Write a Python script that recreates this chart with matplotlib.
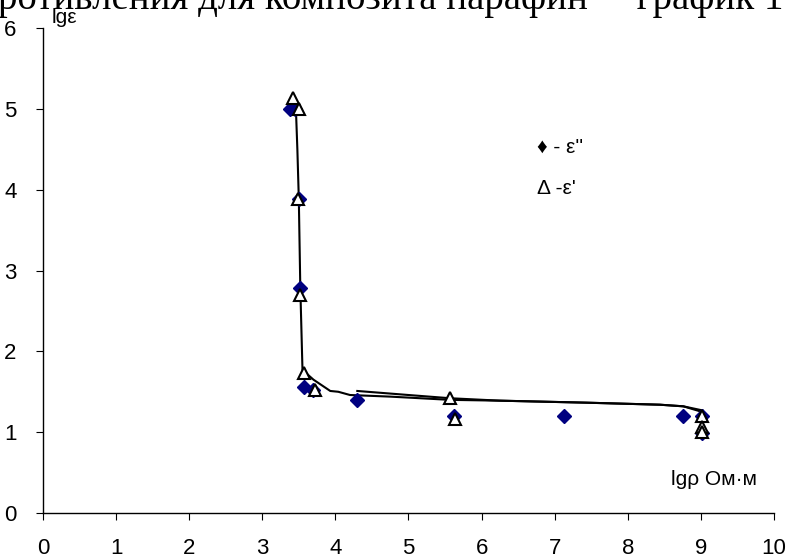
import matplotlib.pyplot as plt

# data
# eps'' (filled diamonds)
x_eps2 = [3.38, 3.45, 3.50, 3.52, 3.57, 3.70, 4.30, 5.62, 7.13, 8.75, 9.02, 9.02]
y_eps2 = [5.00, 5.00, 3.88, 2.78, 1.56, 1.52, 1.40, 1.20, 1.20, 1.20, 1.20, 0.99]

# eps' (open triangles)
x_eps1 = [3.42, 3.50, 3.49, 3.52, 3.57, 3.72, 5.57, 5.63, 9.02, 9.02, 9.02]
y_eps1 = [5.14, 5.00, 3.88, 2.70, 1.73, 1.52, 1.42, 1.16, 1.20, 1.06, 1.00]

# hand-drawn trend lines
trend1_x = [3.46, 3.48, 3.50, 3.52, 3.55, 3.70, 3.93, 4.04, 4.20, 4.75, 5.57,
            6.25, 7.44, 8.44, 8.76, 9.02]
trend1_y = [5.00, 4.50, 3.88, 2.80, 1.77, 1.65, 1.51, 1.50, 1.46, 1.44, 1.40,
            1.39, 1.365, 1.34, 1.32, 1.25]
trend2_x = [4.30, 5.00, 5.57, 6.25, 7.44, 8.44, 8.76, 9.02]
trend2_y = [1.51, 1.46, 1.42, 1.39, 1.365, 1.34, 1.32, 1.27]

x_ticks = list(range(0, 11))
y_ticks = list(range(0, 7))

plt.rcParams['font.family'] = ['Liberation Sans', 'DejaVu Sans']


def main():
    fig = plt.figure(figsize=(7.93, 5.58), dpi=100)
    ax = fig.add_axes([0.0542, 0.0806, 0.9218, 0.8692])

    ax.plot(trend1_x, trend1_y, color='black', lw=1.5, zorder=2)
    ax.plot(trend2_x, trend2_y, color='black', lw=1.5, zorder=2)

    ax.plot(x_eps2, y_eps2, ls='none', marker='D', ms=7.5,
            color='#000080', mec='#000080', zorder=3)
    ax.plot(x_eps1, y_eps1, ls='none', marker='^', ms=9,
            mfc='white', mec='black', mew=1.5, zorder=4)

    ax.set_xlim(0, 10)
    ax.set_ylim(0, 6)
    ax.set_xticks(x_ticks)
    ax.set_yticks(y_ticks)
    for s in ('top', 'right'):
        ax.spines[s].set_visible(False)
    for s in ('left', 'bottom'):
        ax.spines[s].set_linewidth(1.0)
    ax.tick_params(axis='x', direction='out', length=5, pad=13, labelsize=16)
    ax.tick_params(axis='y', direction='out', length=5, pad=14, labelsize=16)

    ax.text(0.12, 6.13, 'lgε', fontsize=15, ha='left', va='center',
            clip_on=False)
    ax.text(8.59, 0.41, 'lgρ Ом·м', fontsize=15, ha='left', va='center')
    ax.text(6.76, 4.52, "♦ - ε''", fontsize=15, ha='left', va='center')
    ax.text(6.76, 4.02, "Δ -ε'", fontsize=15, ha='left', va='center')

    # cut-off line of document text above the chart
    fig.text(-0.003, 0.984, 'ротивления для композита парафин     график 1',
             family='Liberation Serif', fontsize=28, va='baseline', ha='left')

    fig.savefig('out.png', dpi=100)


if __name__ == '__main__':
    main()
